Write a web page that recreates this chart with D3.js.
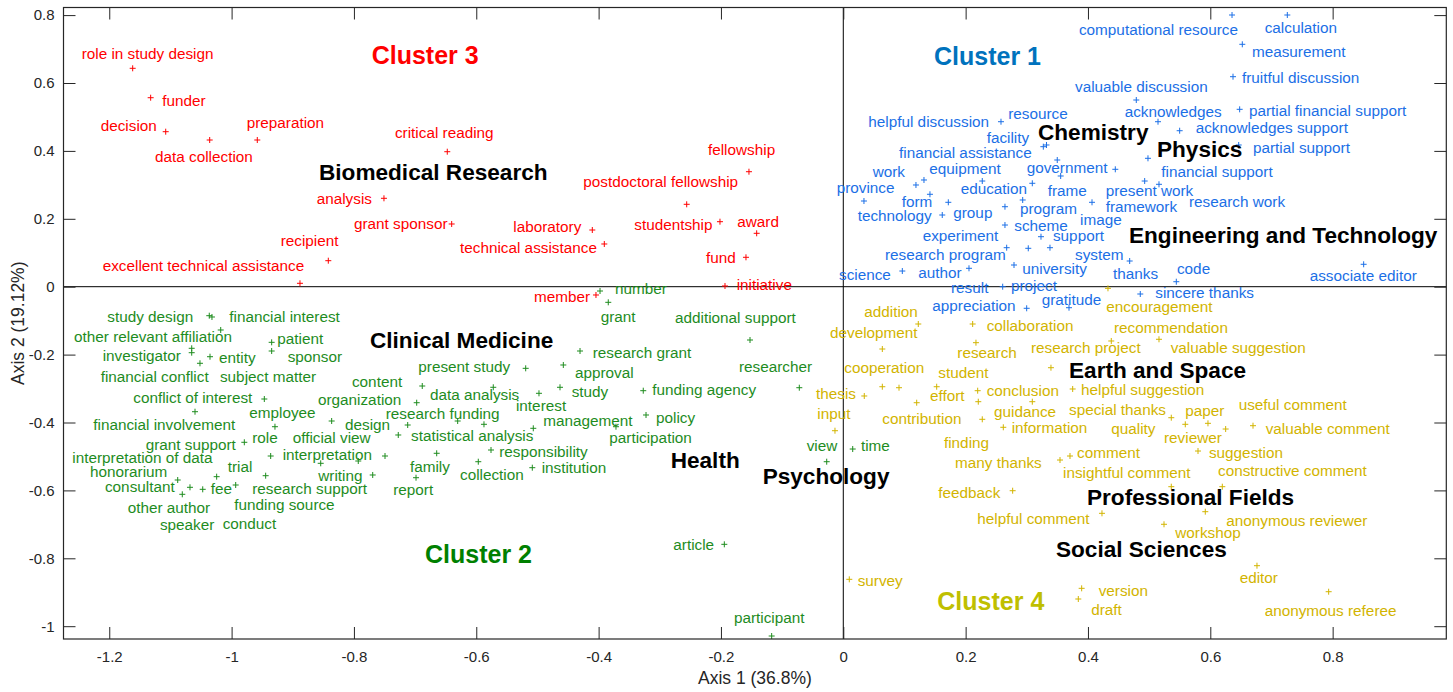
<!DOCTYPE html>
<html lang="en">
<head>
<meta charset="utf-8">
<style>
  body { margin: 0; background: #fff; }
  svg text { font-family: "Liberation Sans", Arial, sans-serif; }
  .term { font-size: 15.3px; }
  .field { font-size: 22.6px; font-weight: bold; fill: #000; }
  .cluster { font-size: 25px; font-weight: bold; }
  .axis text { font-size: 15px; fill: #262626; font-family: "Liberation Sans", Arial, sans-serif; }
  .axis line { stroke: #262626; }
  .axis path { display: none; }
  .axis-title { font-size: 17.5px; fill: #262626; }
</style>
<script src="https://d3js.org/d3.v7.min.js"></script>
</head>
<body>
<svg width="1453" height="692"></svg>
<script>
// each row: term, axis 1, axis 2, label x, label y (label = left end of text baseline)
var cluster1 = [
  ["computational resource", 0.6355, 0.8003, 0.3853, 0.7414],
  ["calculation", 0.7259, 0.8003, 0.6889, 0.7482],
  ["measurement", 0.6523, 0.7140, 0.6681, 0.6757],
  ["fruitful discussion", 0.6371, 0.6186, 0.6518, 0.5991],
  ["valuable discussion", 0.4790, 0.5499, 0.3788, 0.5744],
  ["acknowledges", 0.5145, 0.4860, 0.4600, 0.4990],
  ["partial financial support", 0.6480, 0.5225, 0.6632, 0.5037],
  ["acknowledges support", 0.5499, 0.4595, 0.5761, 0.4518],
  ["partial support", 0.6464, 0.4174, 0.6698, 0.3929],
  ["financial support", 0.4981, 0.3782, 0.5199, 0.3240],
  ["government", 0.4447, 0.3458, 0.2998, 0.3358],
  ["present work", 0.4927, 0.3113, 0.4290, 0.2672],
  ["research work", 0.5161, 0.3016, 0.5652, 0.2339],
  ["framework", 0.4066, 0.2486, 0.4290, 0.2209],
  ["helpful discussion", 0.2578, 0.4860, 0.0409, 0.4695],
  ["resource", 0.3498, 0.3732, 0.2697, 0.4940],
  ["facility", 0.3270, 0.4124, 0.2344, 0.4242],
  ["financial assistance", 0.3322, 0.4174, 0.0911, 0.3782],
  ["equipment", 0.1319, 0.3143, 0.1406, 0.3320],
  ["work", 0.1188, 0.2996, 0.0481, 0.3240],
  ["education", 0.2272, 0.3113, 0.1919, 0.2730],
  ["frame", 0.3554, 0.3261, 0.3342, 0.2680],
  ["form", 0.1417, 0.2722, 0.0955, 0.2339],
  ["province", 0.0338, 0.2524, -0.0108, 0.2769],
  ["technology", 0.1717, 0.2486, 0.0235, 0.1944],
  ["group", 0.1618, 0.2112, 0.1798, 0.2015],
  ["program", 0.2643, 0.2356, 0.2889, 0.2141],
  ["scheme", 0.2643, 0.1817, 0.2795, 0.1641],
  ["image", 0.2933, 0.2554, 0.3870, 0.1817],
  ["support", 0.3232, 0.1473, 0.3428, 0.1346],
  ["experiment", 0.2671, 0.1149, 0.1298, 0.1346],
  ["research program", 0.3024, 0.1131, 0.0682, 0.0786],
  ["system", 0.4682, 0.0757, 0.3788, 0.0786],
  ["science", 0.0965, 0.0462, -0.0070, 0.0197],
  ["author", 0.2055, 0.0542, 0.1226, 0.0247],
  ["university", 0.2791, 0.0639, 0.2926, 0.0365],
  ["result", 0.2606, 0.0000, 0.1761, -0.0177],
  ["project", 0.3379, 0.1149, 0.2742, -0.0118],
  ["appreciation", 0.2998, -0.0636, 0.1455, -0.0716],
  ["gratitude", 0.3690, -0.0619, 0.3243, -0.0539],
  ["thanks", 0.3090, 0.3046, 0.4409, 0.0227],
  ["code", 0.5444, 0.0147, 0.5455, 0.0365],
  ["associate editor", 0.8507, 0.0660, 0.7625, 0.0168],
  ["sincere thanks", 0.4855, -0.0215, 0.5101, -0.0324]
];

var cluster2 = [
  ["study design", -1.0365, -0.0854, -1.2032, -0.1031],
  ["financial interest", -1.0321, -0.0892, -1.0038, -0.1031],
  ["other relevant affiliation", -1.0178, -0.1275, -1.2576, -0.1638],
  ["patient", -0.9345, -0.1638, -0.9253, -0.1697],
  ["sponsor", -0.9345, -0.1894, -0.9083, -0.2227],
  ["investigator", -1.0652, -0.1814, -1.2107, -0.2188],
  ["financial conflict", -1.0652, -0.1944, -1.2140, -0.2816],
  ["subject matter", -1.0517, -0.2256, -1.0190, -0.2798],
  ["entity", -1.0353, -0.2062, -1.0206, -0.2256],
  ["conflict of interest", -0.9465, -0.3308, -1.1607, -0.3434],
  ["financial involvement", -1.0598, -0.3682, -1.2261, -0.4221],
  ["employee", -0.8364, -0.3956, -0.9711, -0.3876],
  ["role", -0.9291, -0.4124, -0.9662, -0.4613],
  ["grant support", -0.9792, -0.4583, -1.1404, -0.4810],
  ["interpretation", -0.9361, -0.4987, -0.9165, -0.5105],
  ["official view", -0.8543, -0.5202, -0.9001, -0.4613],
  ["writing", -0.7929, -0.5134, -0.8583, -0.5723],
  ["design", -0.7275, -0.4368, -0.8146, -0.4221],
  ["organization", -0.7121, -0.4074, -0.8588, -0.3485],
  ["content", -0.6883, -0.2925, -0.8032, -0.2946],
  ["other author", -0.6974, -0.3417, -1.1698, -0.6675],
  ["speaker", -0.7492, -0.4987, -1.1171, -0.7166],
  ["funding source", -0.7693, -0.5546, -0.9956, -0.6577],
  ["research funding", -0.6304, -0.3956, -0.7481, -0.3906],
  ["statistical analysis", -0.5874, -0.4053, -0.7067, -0.4545],
  ["family", -0.6647, -0.4907, -0.7084, -0.5449],
  ["report", -0.6985, -0.5626, -0.7357, -0.6136],
  ["collection", -0.5967, -0.5155, -0.6266, -0.5694],
  ["responsibility", -0.5759, -0.4810, -0.5624, -0.5007],
  ["institution", -0.5084, -0.5331, -0.4931, -0.5496],
  ["present study", -0.5192, -0.2404, -0.6948, -0.2504],
  ["data analysis", -0.5722, -0.2963, -0.6757, -0.3337],
  ["interest", -0.4975, -0.3140, -0.5351, -0.3652],
  ["study", -0.4631, -0.2963, -0.4440, -0.3240],
  ["approval", -0.4577, -0.2306, -0.4386, -0.2698],
  ["research grant", -0.4304, -0.1894, -0.4097, -0.2091],
  ["management", -0.5068, -0.4171, -0.4904, -0.4103],
  ["participation", -0.3716, -0.4124, -0.3825, -0.4613],
  ["policy", -0.3225, -0.3779, -0.3062, -0.4024],
  ["funding agency", -0.3270, -0.3063, -0.3122, -0.3190],
  ["number", -0.3977, -0.0127, -0.3732, -0.0224],
  ["grant", -0.3842, -0.0460, -0.3966, -0.1031],
  ["additional support", -0.1525, -0.1570, -0.2751, -0.1078],
  ["researcher", -0.0719, -0.2975, -0.1705, -0.2504],
  ["view", -0.0271, -0.5155, -0.0598, -0.4831],
  ["time", 0.0154, -0.4781, 0.0289, -0.4831],
  ["article", -0.1945, -0.7588, -0.2779, -0.7756],
  ["participant", -0.1171, -1.0289, -0.1787, -0.9915],
  ["interpretation of data", -1.0881, -0.5694, -1.2604, -0.5202],
  ["honorarium", -1.0680, -0.5909, -1.2315, -0.5596],
  ["consultant", -1.0806, -0.6115, -1.2070, -0.6038],
  ["fee", -1.0472, -0.5968, -1.0342, -0.6115],
  ["trial", -1.0244, -0.5596, -1.0064, -0.5467],
  ["conduct", -0.9933, -0.5841, -1.0146, -0.7137],
  ["research support", -0.9443, -0.5567, -0.9662, -0.6106]
];

var cluster3 = [
  ["role in study design", -1.1617, 0.6433, -1.2451, 0.6707],
  ["funder", -1.1323, 0.5567, -1.1133, 0.5323],
  ["decision", -1.1077, 0.4566, -1.2140, 0.4586],
  ["data collection", -1.0358, 0.4321, -1.1252, 0.3682],
  ["preparation", -0.9580, 0.4321, -0.9753, 0.4666],
  ["critical reading", -0.6474, 0.3976, -0.7329, 0.4371],
  ["analysis", -0.7509, 0.2604, -0.8609, 0.2436],
  ["grant sponsor", -0.6402, 0.1847, -0.7999, 0.1700],
  ["recipient", -0.8419, 0.0766, -0.9197, 0.1208],
  ["excellent technical assistance", -0.8882, 0.0100, -1.2107, 0.0471],
  ["laboratory", -0.4103, 0.1670, -0.5395, 0.1611],
  ["technical assistance", -0.3907, 0.1258, -0.6266, 0.0984],
  ["postdoctoral fellowship", -0.2560, 0.2427, -0.4250, 0.2946],
  ["studentship", -0.2016, 0.1915, -0.3417, 0.1670],
  ["fellowship", -0.1542, 0.3387, -0.2212, 0.3879],
  ["award", -0.1416, 0.1573, -0.1733, 0.1767],
  ["fund", -0.1591, 0.0866, -0.2245, 0.0698],
  ["initiative", -0.1934, 0.0021, -0.1743, -0.0097],
  ["member", -0.4043, -0.0244, -0.5056, -0.0442]
];

var cluster4 = [
  ["addition", 0.1226, -0.1099, 0.0343, -0.0884],
  ["development", 0.0638, -0.1835, -0.0217, -0.1520],
  ["collaboration", 0.2115, -0.1099, 0.2344, -0.1305],
  ["research", 0.2169, -0.1649, 0.1864, -0.2109],
  ["research project", 0.4381, -0.1599, 0.3068, -0.1962],
  ["cooperation", 0.0638, -0.2946, 0.0016, -0.2551],
  ["student", 0.1527, -0.2946, 0.1553, -0.2698],
  ["thesis", 0.0343, -0.3219, -0.0446, -0.3308],
  ["effort", 0.1200, -0.3417, 0.1417, -0.3367],
  ["conclusion", 0.2197, -0.3063, 0.2344, -0.3219],
  ["guidance", 0.2207, -0.3387, 0.2464, -0.3829],
  ["helpful suggestion", 0.3750, -0.3013, 0.3886, -0.3190],
  ["input", -0.0136, -0.4242, -0.0425, -0.3906],
  ["contribution", 0.2272, -0.3906, 0.0638, -0.4044],
  ["information", 0.2616, -0.4141, 0.2753, -0.4300],
  ["special thanks", 0.5362, -0.3859, 0.3690, -0.3779],
  ["quality", 0.5591, -0.4053, 0.4381, -0.4348],
  ["paper", 0.5962, -0.4024, 0.5591, -0.3800],
  ["reviewer", 0.6251, -0.4192, 0.5243, -0.4613],
  ["valuable comment", 0.6698, -0.4094, 0.6905, -0.4348],
  ["useful comment", 0.0911, -0.2975, 0.6464, -0.3632],
  ["suggestion", 0.5799, -0.4840, 0.5978, -0.5054],
  ["finding", 0.3090, -0.3387, 0.1646, -0.4742],
  ["many thanks", 0.3543, -0.5105, 0.1826, -0.5349],
  ["comment", 0.3706, -0.4987, 0.3821, -0.5046],
  ["insightful comment", 0.5362, -0.5891, 0.3592, -0.5644],
  ["constructive comment", 0.6196, -0.5891, 0.6126, -0.5567],
  ["feedback", 0.2769, -0.6009, 0.1553, -0.6233],
  ["helpful comment", 0.4229, -0.6675, 0.2191, -0.6998],
  ["anonymous reviewer", 0.5918, -0.6627, 0.6261, -0.7040],
  ["workshop", 0.5243, -0.6998, 0.5428, -0.7411],
  ["survey", 0.0098, -0.8619, 0.0235, -0.8807],
  ["version", 0.3897, -0.8884, 0.4175, -0.9110],
  ["draft", 0.3842, -0.9199, 0.4054, -0.9670],
  ["editor", 0.6763, -0.8218, 0.6480, -0.8719],
  ["anonymous referee", 0.7935, -0.8984, 0.6889, -0.9699],
  ["encouragement", 0.4327, -0.0047, 0.4300, -0.0754],
  ["recommendation", 0.5161, -0.1549, 0.4425, -0.1373],
  ["valuable suggestion", 0.3395, -0.2386, 0.5352, -0.1944]
];

// subject field names written on the map (left end of baseline)
var fields = [
  ["Biomedical Research", -0.8571, 0.3143],
  ["Chemistry", 0.3183, 0.4321],
  ["Physics", 0.5128, 0.3829],
  ["Engineering and Technology", 0.4671, 0.1278],
  ["Clinical Medicine", -0.7738, -0.1797],
  ["Earth and Space", 0.3690, -0.2698],
  ["Health", -0.2822, -0.5349],
  ["Psychology", -0.1318, -0.5820],
  ["Professional Fields", 0.3984, -0.6430],
  ["Social Sciences", 0.3477, -0.7953]
];

var clusterNames = ["Cluster 1", "Cluster 2", "Cluster 3", "Cluster 4"];
var clusterTitlePos = [[0.1483, 0.6530], [-0.6838, -0.8147], [-0.7710, 0.6560], [0.1537, -0.9523]];

var xTicks = [-1.2, -1, -0.8, -0.6, -0.4, -0.2, 0, 0.2, 0.4, 0.6, 0.8];
var yTicks = [-1, -0.8, -0.6, -0.4, -0.2, 0, 0.2, 0.4, 0.6, 0.8];

var termColors = ["#1b6fe6", "#1e8c1e", "#ff0000", "#d2b400"];
var titleColors = ["#0072bd", "#008000", "#ff0000", "#bfbf00"];

var svg = d3.select("svg");
var plotLeft = 63.5, plotRight = 1446.3, plotTop = 7.5, plotBottom = 639;

var x = d3.scaleLinear().domain([-1.2748, 0.9858]).range([plotLeft, plotRight]);
var y = d3.scaleLinear().domain([-1.0377, 0.8224]).range([plotBottom, plotTop]);

var fmt = function(d) { return String(+d.toFixed(1)); };

// zero lines
svg.append("line")
    .attr("x1", x(0)).attr("x2", x(0))
    .attr("y1", plotTop).attr("y2", plotBottom)
    .attr("stroke", "#000").attr("stroke-width", 1);
svg.append("line")
    .attr("x1", plotLeft).attr("x2", plotRight)
    .attr("y1", y(0)).attr("y2", y(0))
    .attr("stroke", "#000").attr("stroke-width", 1);

var clusters = [cluster1, cluster2, cluster3, cluster4];

clusters.forEach(function(rows, i) {
  var g = svg.append("g");

  g.selectAll("path.mark")
    .data(rows)
    .enter()
    .append("path")
      .attr("class", "mark")
      .attr("d", "M-3,0H3M0,-3V3")
      .attr("transform", function(d) { return "translate(" + x(d[1]) + "," + y(d[2]) + ")"; })
      .attr("stroke", termColors[i])
      .attr("stroke-width", 1)
      .attr("fill", "none");

  g.selectAll("text.term")
    .data(rows)
    .enter()
    .append("text")
      .attr("class", "term")
      .attr("x", function(d) { return x(d[3]); })
      .attr("y", function(d) { return y(d[4]); })
      .attr("fill", termColors[i])
      .text(function(d) { return d[0]; });
});

svg.append("g").selectAll("text")
  .data(fields)
  .enter()
  .append("text")
    .attr("class", "field")
    .attr("x", function(d) { return x(d[1]); })
    .attr("y", function(d) { return y(d[2]); })
    .text(function(d) { return d[0]; });

svg.append("g").selectAll("text")
  .data(clusterNames)
  .enter()
  .append("text")
    .attr("class", "cluster")
    .attr("x", function(d, i) { return x(clusterTitlePos[i][0]); })
    .attr("y", function(d, i) { return y(clusterTitlePos[i][1]); })
    .attr("fill", function(d, i) { return titleColors[i]; })
    .text(function(d) { return d; });

// axes, ticks pointing inward on all four sides
svg.append("g")
    .attr("class", "axis")
    .attr("transform", "translate(0," + plotBottom + ")")
    .call(d3.axisBottom(x).tickValues(xTicks).tickFormat(fmt).tickSize(-12).tickPadding(12));
svg.append("g")
    .attr("class", "axis")
    .attr("transform", "translate(0," + plotTop + ")")
    .call(d3.axisTop(x).tickValues(xTicks).tickFormat("").tickSize(-12));
svg.append("g")
    .attr("class", "axis")
    .attr("transform", "translate(" + plotLeft + ",0)")
    .call(d3.axisLeft(y).tickValues(yTicks).tickFormat(fmt).tickSize(-12).tickPadding(9));
svg.append("g")
    .attr("class", "axis")
    .attr("transform", "translate(" + plotRight + ",0)")
    .call(d3.axisRight(y).tickValues(yTicks).tickFormat("").tickSize(-12));

svg.append("rect")
    .attr("x", plotLeft).attr("y", plotTop)
    .attr("width", plotRight - plotLeft).attr("height", plotBottom - plotTop)
    .attr("fill", "none")
    .attr("stroke", "#262626")
    .attr("stroke-width", 1.2);

svg.append("text")
    .attr("class", "axis-title")
    .attr("x", (plotLeft + plotRight) / 2)
    .attr("y", 684)
    .attr("text-anchor", "middle")
    .text("Axis 1 (36.8%)");

svg.append("text")
    .attr("class", "axis-title")
    .attr("transform", "translate(24," + ((plotTop + plotBottom) / 2) + ") rotate(-90)")
    .attr("text-anchor", "middle")
    .text("Axis 2 (19.12%)");
</script>
</body>
</html>
